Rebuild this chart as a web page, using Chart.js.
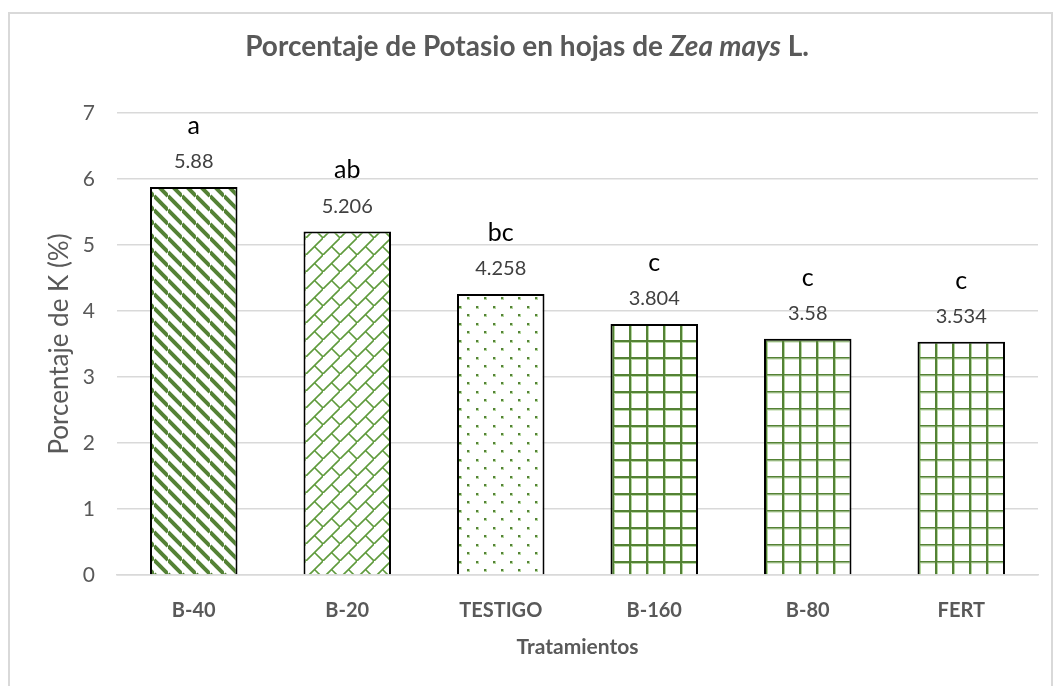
<!DOCTYPE html>
<html lang="es">
<head>
<meta charset="UTF-8">
<script src="https://cdn.jsdelivr.net/npm/chart.js@4"></script>
<style>
  html, body { margin: 0; padding: 0; background: #fff; }
  #wrap { width: 1054px; height: 686px; }
</style>
</head>
<body>
<div id="wrap"><canvas id="grafica"></canvas></div>
<script>
// datos
var tratamientos = ['B-40', 'B-20', 'TESTIGO', 'B-160', 'B-80', 'FERT'];
var potasio = [5.88, 5.206, 4.258, 3.804, 3.58, 3.534];
var letras = ['a', 'ab', 'bc', 'c', 'c', 'c'];
var ticksY = [0, 1, 2, 3, 4, 5, 6, 7];

var verde = '#548235';
var fuente = 'Lato, "Open Sans", sans-serif';

function patron(tam, dibujar) {
    var c = document.createElement('canvas');
    c.width = tam; c.height = tam;
    var g = c.getContext('2d');
    g.fillStyle = '#fff';
    g.fillRect(0, 0, tam, tam);
    dibujar(g, tam);
    return g.createPattern(c, 'repeat');
}

// rayas diagonales
var rayas = patron(14, function(g, s) {
    g.strokeStyle = verde; g.lineWidth = 4;
    for (var k = -1; k <= 1; k++) {
        g.beginPath(); g.moveTo(0, k * s); g.lineTo(s, s + k * s); g.stroke();
    }
});
// ladrillo diagonal
var ladrillo = patron(17, function(g, s) {
    g.strokeStyle = '#5f9a3c'; g.lineWidth = 1.6;
    g.beginPath(); g.moveTo(-1, s + 1); g.lineTo(s + 1, -1); g.stroke();
    g.beginPath(); g.moveTo(s / 2, s / 2); g.lineTo(s, s); g.stroke();
});
// puntos
var puntos = patron(17, function(g, s) {
    g.fillStyle = '#b5d6a0';
    g.fillRect(0, 0, 3, 3);
    g.fillRect(8, 8, 3, 3);
    g.fillStyle = verde;
    g.fillRect(0, 0, 2, 2);
    g.fillRect(8, 8, 2, 2);
});
// cuadricula
function cuadricula(gv, gh) {
    return patron(17, function(g, s) {
        g.fillStyle = '#b5d6a0';
        g.fillRect(gv, 0, 1, s);
        g.fillRect(0, gh, s, 1);
        g.fillStyle = verde;
        g.fillRect(0, 0, gv, s);
        g.fillRect(0, 0, s, gh);
    });
}
var rellenos = [rayas, ladrillo, puntos, cuadricula(2, 2), cuadricula(2, 1.5), cuadricula(2, 1.5)];

var marco = {
    id: 'marco',
    beforeDraw: function(chart) {
        var ctx = chart.ctx;
        ctx.save();
        ctx.strokeStyle = '#d9d9d9';
        ctx.lineWidth = 2;
        ctx.strokeRect(9, 13, 1043, 700);
        // titulo con Zea mays en cursiva
        var partes = [
            ['bold 28px ' + fuente, 'Porcentaje de Potasio en hojas de '],
            ['italic bold 28px ' + fuente, 'Zea mays'],
            ['bold 28px ' + fuente, ' L.']
        ];
        var total = 0;
        partes.forEach(function(p) { ctx.font = p[0]; total += ctx.measureText(p[1]).width; });
        var x = 527 - total / 2;
        ctx.fillStyle = '#595959';
        ctx.textBaseline = 'middle';
        ctx.textAlign = 'left';
        partes.forEach(function(p) {
            ctx.font = p[0];
            ctx.fillText(p[1], x, 47);
            x += ctx.measureText(p[1]).width;
        });
        ctx.restore();
    }
};

var etiquetas = {
    id: 'etiquetas',
    afterDatasetsDraw: function(chart) {
        var ctx = chart.ctx;
        var meta = chart.getDatasetMeta(0);
        ctx.save();
        ctx.textAlign = 'center';
        ctx.textBaseline = 'middle';
        meta.data.forEach(function(bar, i) {
            ctx.font = '20px ' + fuente;
            ctx.fillStyle = '#404040';
            ctx.fillText(String(potasio[i]), bar.x, bar.y - 25);
            ctx.font = '25px ' + fuente;
            ctx.fillStyle = '#000';
            ctx.fillText(letras[i], bar.x, bar.y - 61);
        });
        ctx.restore();
    }
};

new Chart(document.getElementById('grafica'), {
    type: 'bar',
    data: {
        labels: tratamientos,
        datasets: [{
            data: potasio,
            backgroundColor: rellenos,
            borderColor: '#000',
            borderWidth: 2,
            barPercentage: 1,
            categoryPercentage: 0.57
        }]
    },
    options: {
        responsive: true,
        maintainAspectRatio: false,
        animation: false,
        layout: { padding: { left: 10, right: 16, top: 113, bottom: 10 } },
        plugins: {
            legend: { display: false },
            tooltip: { enabled: false }
        },
        scales: {
            x: {
                grid: { display: false },
                border: { color: '#d9d9d9', width: 1.5 },
                ticks: { color: '#595959', font: { family: fuente, size: 20, weight: 'bold' }, padding: 16 },
                title: { display: true, text: 'Tratamientos', color: '#595959',
                         font: { family: fuente, size: 21, weight: 'bold' }, padding: { top: 16, bottom: 16 } },
                afterFit: function(s) { s.height = 101; }
            },
            y: {
                min: 0, max: 7,
                afterBuildTicks: function(s) { s.ticks = ticksY.map(function(v) { return { value: v }; }); },
                grid: { color: '#d9d9d9', lineWidth: 1.5, drawTicks: false },
                border: { display: false },
                ticks: { color: '#595959', font: { family: fuente, size: 21 }, padding: 22 },
                title: { display: true, text: 'Porcentaje de K (%)', color: '#595959',
                         font: { family: fuente, size: 26 }, padding: { top: 34, bottom: 0 } },
                afterFit: function(s) { s.width = 107; }
            }
        }
    },
    plugins: [marco, etiquetas]
});
</script>
</body>
</html>
